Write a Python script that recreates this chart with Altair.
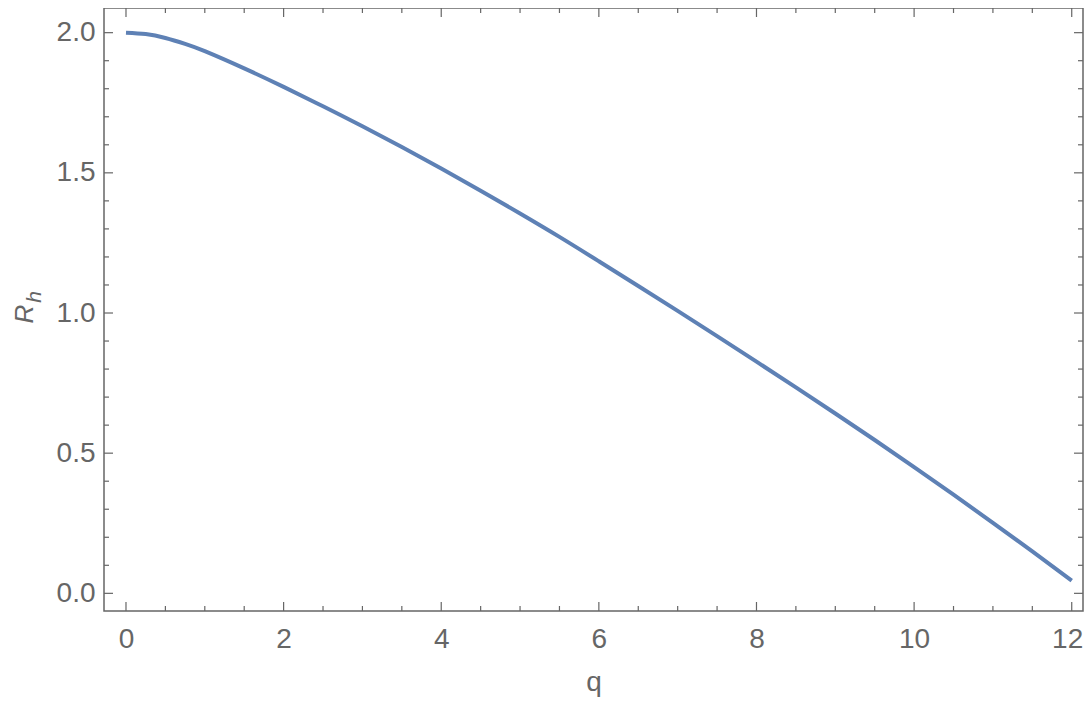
import altair as alt
import pandas as pd

# data
q_vals = [0, 0.25, 0.5, 0.75, 1, 1.5, 2, 2.5, 3, 3.5, 4, 4.5, 5, 5.5, 6, 6.5,
          7, 7.5, 8, 8.5, 9, 9.5, 10, 10.5, 11, 11.5, 12]
rh_vals = [2.000, 1.995, 1.981, 1.960, 1.934, 1.8725, 1.8065, 1.7375, 1.666,
           1.592, 1.5155, 1.4365, 1.355, 1.2715, 1.1845, 1.0965, 1.0075,
           0.9175, 0.8265, 0.7345, 0.6415, 0.547, 0.4505, 0.352, 0.2515,
           0.1495, 0.0455]

x_major = [0, 2, 4, 6, 8, 10, 12]
x_minor = [0.5, 1, 1.5, 2.5, 3, 3.5, 4.5, 5, 5.5, 6.5, 7, 7.5, 8.5, 9, 9.5,
           10.5, 11, 11.5]
y_major = [0.0, 0.5, 1.0, 1.5, 2.0]
y_minor = [0.1, 0.2, 0.3, 0.4, 0.6, 0.7, 0.8, 0.9, 1.1, 1.2, 1.3, 1.4, 1.6,
           1.7, 1.8, 1.9]

X_DOMAIN = [-0.279, 12.143]
Y_DOMAIN = [-0.063, 2.088]

W, H = 979, 603
GRAY = "#666666"
FONT = "Liberation Sans"
LINE = "#5E81B5"

xs = alt.Scale(domain=X_DOMAIN, nice=False, zero=False)
ys = alt.Scale(domain=Y_DOMAIN, nice=False, zero=False)

x_axis = alt.Axis(values=x_major, format="d", ticks=False, tickSize=0,
                  domain=False, grid=False, labelFontSize=28,
                  labelColor=GRAY, labelFont=FONT, labelPadding=14,
                  labelFlush=15, labelFlushOffset=11,
                  title="q", titleFontSize=28, titleColor=GRAY,
                  titleFont=FONT, titleFontWeight="normal", titlePadding=15)
y_axis = alt.Axis(values=y_major, format=".1f", ticks=False, tickSize=0,
                  domain=False, grid=False, labelFontSize=28,
                  labelColor=GRAY, labelFont=FONT, labelPadding=9, title=None)

df = pd.DataFrame({"q": q_vals, "R": rh_vals})

line = alt.Chart(df).mark_line(color=LINE, strokeWidth=4, interpolate="natural").encode(
    x=alt.X("q:Q", scale=xs, axis=x_axis),
    y=alt.Y("R:Q", scale=ys, axis=y_axis),
)

def xticks(vals, y0, y1):
    return alt.Chart(pd.DataFrame({"q": vals})).mark_rule(color=GRAY, strokeWidth=1.2).encode(
        x=alt.X("q:Q", scale=xs, axis=x_axis),
        y=alt.value(y0), y2=alt.value(y1))

def yticks(vals, x0, x1):
    return alt.Chart(pd.DataFrame({"R": vals})).mark_rule(color=GRAY, strokeWidth=1.2).encode(
        y=alt.Y("R:Q", scale=ys, axis=y_axis),
        x=alt.value(x0), x2=alt.value(x1))

ticks = [
    xticks(x_major, H, H - 9), xticks(x_minor, H, H - 5),
    xticks(x_major, 0, 9), xticks(x_minor, 0, 5),
    yticks(y_major, 0, 9), yticks(y_minor, 0, 5),
    yticks(y_major, W, W - 9), yticks(y_minor, W, W - 5),
]

r_text = alt.Chart(pd.DataFrame({"t": ["R"]})).mark_text(
    angle=270, fontSize=26, fontStyle="italic", font=FONT, color=GRAY,
    align="center", baseline="middle").encode(
    text="t:N", x=alt.value(-79), y=alt.value(306))
h_text = alt.Chart(pd.DataFrame({"t": ["h"]})).mark_text(
    angle=270, fontSize=21, fontStyle="italic", font=FONT, color=GRAY,
    align="center", baseline="middle").encode(
    text="t:N", x=alt.value(-69), y=alt.value(289))

chart = alt.layer(line, *ticks, r_text, h_text).properties(
    width=W, height=H,
    autosize=alt.AutoSizeParams(type="none"),
    padding={"left": 96, "top": 0, "right": 1, "bottom": 87},
).configure_view(stroke=GRAY, strokeWidth=1.5)

chart.save("out.html", embed_options={"renderer": "svg", "actions": False})
